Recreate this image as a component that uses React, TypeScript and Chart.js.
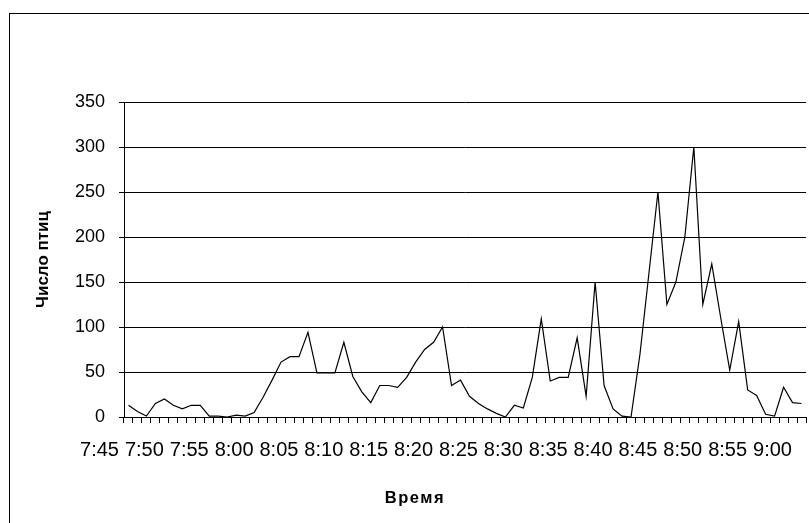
import React, { useRef, useEffect } from 'react';
import { Chart, registerables } from 'chart.js';

Chart.register(...registerables);

// one reading per minute, 7:45 .. 9:00
const times: string[] = [];
for (let m = 7 * 60 + 45; m <= 9 * 60; m++) {
  times.push(`${Math.floor(m / 60)}:${String(m % 60).padStart(2, '0')}`);
}

const birds = [
  13, 6, 1, 15, 20, 13, 9, 13, 13, 1,
  1, 0, 2, 1, 5, 22, 41, 61, 67, 67,
  94, 49, 49, 49, 83, 45, 28, 16, 35, 35,
  33, 44, 61, 75, 83, 100, 35, 41, 23, 15,
  9, 4, 0, 13, 10, 44, 109, 40, 44, 44,
  88, 23, 150, 35, 9, 1, 0, 70, 160, 250,
  125, 150, 200, 300, 125, 170, 110, 52, 106, 30,
  24, 3, 1, 33, 16, 15,
];

const yTitle = 'Число птиц';
const xTitle = 'Время';

const font = 'Liberation Sans, Arial, sans-serif';

function App() {
  const canvasRef = useRef<HTMLCanvasElement>(null);

  useEffect(() => {
    const chart = new Chart(canvasRef.current!, {
      type: 'line',
      data: {
        labels: times,
        datasets: [
          {
            data: birds,
            borderColor: '#000',
            borderWidth: 1.2,
            pointRadius: 0,
            tension: 0,
            fill: false,
          },
        ],
      },
      options: {
        animation: false,
        responsive: false,
        maintainAspectRatio: false,
        layout: { padding: { top: 102, right: 3, left: 0, bottom: 0 } },
        plugins: { legend: { display: false }, tooltip: { enabled: false } },
        scales: {
          x: {
            offset: true,
            afterFit: (s: any) => {
              s.height = 106;
              s.paddingLeft = 0;
              s.paddingRight = 0;
            },
            grid: { drawOnChartArea: false, color: '#000', tickLength: 6, offset: true },
            border: { color: '#000', width: 1 },
            ticks: {
              autoSkip: false,
              maxRotation: 0,
              minRotation: 0,
              padding: 15,
              labelOffset: -29,
              color: '#000',
              font: { family: font, size: 20 },
              callback: (_v: any, i: number) => (i % 5 === 0 ? times[i] : ''),
            },
          },
          y: {
            min: 0,
            max: 350,
            afterFit: (s: any) => { s.width = 124; },
            grid: { color: '#000', tickLength: 5, lineWidth: 1 },
            border: { color: '#000', width: 1 },
            ticks: {
              stepSize: 50,
              padding: 14,
              color: '#000',
              font: { family: font, size: 18 },
            },
            title: {
              display: true,
              text: yTitle,
              color: '#000',
              font: { family: font, size: 17, weight: 'bold' },
              padding: { top: 33, bottom: 0 },
            },
          },
        },
      },
    });
    return () => chart.destroy();
  }, []);

  return (
    <div style={{ position: 'fixed', left: 0, top: 0, width: 809, height: 523, background: '#fff', overflow: 'hidden' }}>
      <div style={{ position: 'absolute', left: 9, top: 13, width: 820, height: 540, border: '1px solid #000' }} />
      <canvas ref={canvasRef} width={809} height={523} style={{ position: 'absolute', left: 0, top: 0 }} />
      <div
        style={{
          position: 'absolute', left: 315, width: 200, top: 488, textAlign: 'center',
          fontFamily: font, fontWeight: 'bold', fontSize: 16.5, letterSpacing: 1.5, color: '#000',
        }}
      >
        {xTitle}
      </div>
    </div>
  );
}

export default App;
